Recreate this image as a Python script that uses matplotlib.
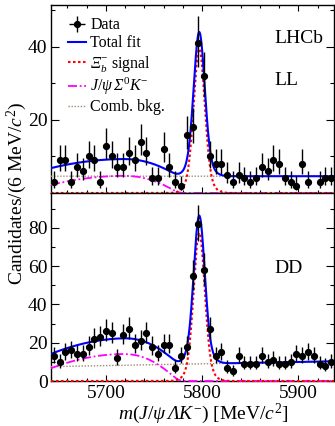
import numpy as np
import matplotlib
matplotlib.use("Agg")
import matplotlib.pyplot as plt
from matplotlib.ticker import MultipleLocator, FixedLocator

plt.rcParams["font.family"] = ["Liberation Serif", "DejaVu Serif"]
# serif maths; the sf slot is used for slanted capital Greek letters
plt.rcParams["mathtext.fontset"] = "custom"
plt.rcParams["mathtext.rm"] = "Liberation Serif"
plt.rcParams["mathtext.it"] = "Liberation Serif:italic"
plt.rcParams["mathtext.sf"] = "Liberation Serif:italic"
plt.rcParams["mathtext.bf"] = "Liberation Serif:bold"

# ---------------------------------------------------------------- binning
bin_width = 6.0
mass_lo, mass_hi = 5643.0, 5937.0
bin_centres = np.arange(mass_lo + bin_width / 2, mass_hi, bin_width)

# ---------------------------------------------------------------- data (candidates per bin)
counts_ll = [3, 9, 9, 3, 7, 6, 10, 9, 3, 13, 10, 7, 7, 11, 9, 14, 11, 4, 4, 12,
             7, 3, 2, 16, 18, 41, 32, 10, 8, 8, 5, 3, 5, 4, 3, 4, 7, 6, 9, 8,
             4, 3, 2, 8, 3, 0, 3, 4, 4]
counts_dd = [13, 10, 15, 16, 14, 14, 18, 22, 23, 26, 25, 12, 24, 27, 19, 21, 25, 18, 14, 19,
             19, 7, 13, 18, 55, 82, 58, 27, 13, 15, 7, 5, 13, 9, 9, 9, 13, 10, 11, 9,
             9, 10, 14, 13, 15, 13, 9, 8, 10]

# ---------------------------------------------------------------- fit components
# signal: double Gaussian (peak height, mean, core width, wide width, wide fraction)
sig_mean, sig_core, sig_wide, sig_frac = 5797.0, 5.5, 9.5, 0.15
sig_peak_ll, sig_peak_dd = 39.5, 77.5
# J/psi Sigma0 K- partially reconstructed shape
part_peak_pos, part_half_left, part_half_right, part_smear = 5720.0, 106.0, 55.0, 4.0
part_amp_ll, part_amp_dd = 4.7, 14.1
# combinatorial background: straight line (value at low edge, value at high edge)
comb_ll = (4.6, 4.6)
comb_dd = (7.5, 10.3)

lbl_data = "Data"
lbl_total = "Total fit"
lbl_signal = r"$\mathsf{\Xi}_{b}^{-}$ signal"
lbl_partial = r"$J/\psi\,\mathsf{\Sigma}^{0}K^{-}$"
lbl_comb = "Comb. bkg."


def poisson_errors(n):
    n = np.asarray(n, dtype=float)
    safe = np.where(n > 0, n, 1.0)
    low = np.where(n > 0, n - safe * (1 - 1 / (9 * safe) - 1 / (3 * np.sqrt(safe))) ** 3, 0.0)
    high = np.sqrt(n + 1) + 1
    return low, high


def signal_shape(x, peak):
    return peak * ((1 - sig_frac) * np.exp(-0.5 * ((x - sig_mean) / sig_core) ** 2)
                   + sig_frac * np.exp(-0.5 * ((x - sig_mean) / sig_wide) ** 2))


def partial_shape(x, amp):
    step = 0.25
    xf = np.arange(5450.0, 6100.0, step)
    half = np.where(xf < part_peak_pos, part_half_left, part_half_right)
    base = np.clip(1 - ((xf - part_peak_pos) / half) ** 2, 0, None)
    kx = np.arange(-5 * part_smear, 5 * part_smear + step, step)
    kern = np.exp(-0.5 * (kx / part_smear) ** 2)
    kern /= kern.sum()
    sm = np.convolve(base, kern, mode="same")
    return amp * np.interp(x, xf, sm / sm.max())


def comb_shape(x, ends):
    a, b = ends
    return a + (b - a) * (x - mass_lo) / (mass_hi - mass_lo)


# ---------------------------------------------------------------- figure
W, H = 335, 426
fig = plt.figure(figsize=(W / 100, H / 100), dpi=100)

ax_left, ax_right = 51, 334
top_y0, mid_y, bot_y1 = 5, 193, 381


def frac_box(x0, x1, y0, y1):
    return [x0 / W, 1 - y1 / H, (x1 - x0) / W, (y1 - y0) / H]


ax_top = fig.add_axes(frac_box(ax_left, ax_right, top_y0, mid_y))
ax_bot = fig.add_axes(frac_box(ax_left, ax_right, mid_y, bot_y1))

xs = np.linspace(mass_lo, mass_hi, 1200)

blue, red, magenta, brown = "#0000ff", "#ff0000", "#ff00ff", "#a08a76"

panels = [
    (ax_top, counts_ll, sig_peak_ll, part_amp_ll, comb_ll, (0, 51.5), "LL"),
    (ax_bot, counts_dd, sig_peak_dd, part_amp_dd, comb_dd, (0, 98.3), "DD"),
]

for ax, counts, speak, pamp, cends, ylim, tag in panels:
    s = signal_shape(xs, speak)
    p = partial_shape(xs, pamp)
    c = comb_shape(xs, cends)
    tot = s + p + c
    on_floor = ax is ax_bot
    ax.plot(xs, c, color=brown, lw=1.0, ls=(0, (1, 1.2)), zorder=3, label=lbl_comb)
    ax.plot(xs, p, color=magenta, lw=1.3, ls=(0, (5, 1.5, 1, 1.5)), zorder=3,
            clip_on=not on_floor, label=lbl_partial)
    ax.plot(xs, s, color=red, lw=1.5, ls=(0, (1.2, 1.2)), zorder=3,
            clip_on=not on_floor, label=lbl_signal)
    ax.plot(xs, tot, color=blue, lw=1.5, zorder=4, label=lbl_total)

    cnt = np.asarray(counts, dtype=float)
    lo, hi = poisson_errors(cnt)
    keep = cnt > 0
    ax.errorbar(bin_centres[keep], cnt[keep], yerr=[lo[keep], hi[keep]],
                xerr=bin_width / 2, fmt="o", color="black", ms=4.2, lw=1.0,
                capsize=0, zorder=5, label=lbl_data)

    ax.set_xlim(mass_lo, mass_hi)
    ax.set_ylim(*ylim)
    ax.xaxis.set_major_locator(MultipleLocator(100))
    ax.xaxis.set_minor_locator(MultipleLocator(20))
    ax.yaxis.set_major_locator(MultipleLocator(20))
    ax.yaxis.set_minor_locator(MultipleLocator(10))
    ax.tick_params(axis="both", which="both", direction="in", labelsize=14,
                   right=True, width=0.8)
    ax.tick_params(axis="x", which="major", length=4.5, pad=3)
    ax.tick_params(axis="x", which="minor", length=2.2)
    ax.tick_params(axis="y", which="major", length=5.5, pad=2.5)
    ax.tick_params(axis="y", which="minor", length=2.8)
    for sp in ax.spines.values():
        sp.set_linewidth(1.0)
    ax.text(0.79, 0.596, tag, transform=ax.transAxes, fontsize=14,
            ha="left", va="center")

ax_top.tick_params(axis="x", which="both", top=True, labelbottom=False)
ax_top.yaxis.set_major_locator(FixedLocator([20, 40]))
ax_bot.tick_params(axis="x", which="both", top=False)

ax_top.text(0.79, 0.824, "LHCb", transform=ax_top.transAxes, fontsize=14,
            ha="left", va="center")

handles, labels = ax_top.get_legend_handles_labels()
order = [labels.index(k) for k in [lbl_data, lbl_total, lbl_signal, lbl_partial, lbl_comb]]
ax_top.legend([handles[i] for i in order], [labels[i] for i in order],
              loc="upper left", bbox_to_anchor=(0.06, 0.935), frameon=False,
              fontsize=11.5, handlelength=1.1, handletextpad=0.3,
              labelspacing=0.14, borderpad=0, borderaxespad=0)

fig.text(288 / W, 1 - 414 / H, r"$m(J/\psi\,\mathsf{\Lambda} K^{-})$ [MeV/$c^{2}$]",
         fontsize=14, ha="right", va="center")
fig.text(17 / W, 1 - 193 / H, r"Candidates/(6 MeV/$c^{2}$)", fontsize=14,
         rotation=90, ha="center", va="center")

fig.savefig("out.png", dpi=100)
